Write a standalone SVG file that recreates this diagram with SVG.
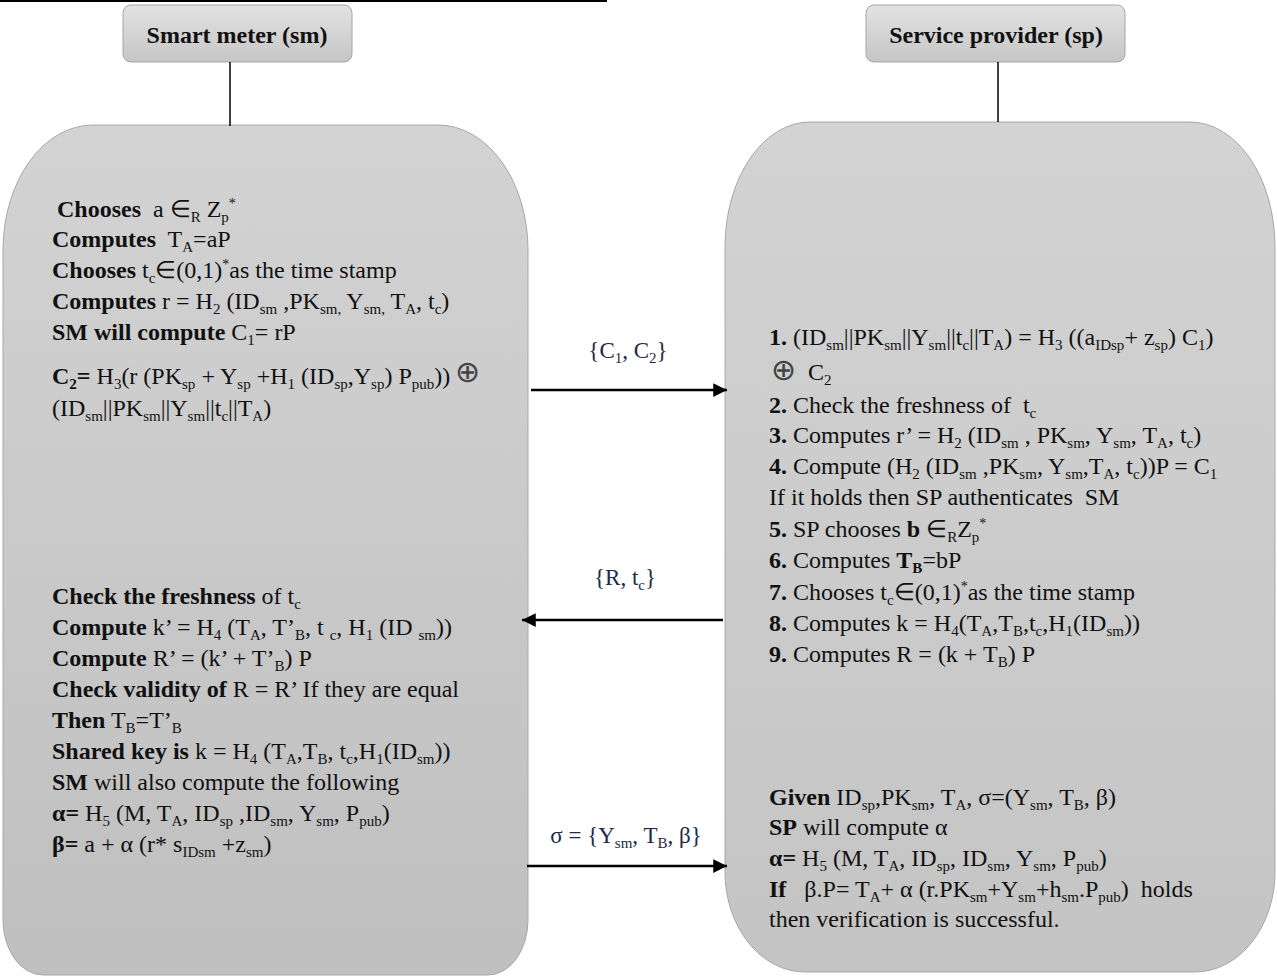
<svg xmlns="http://www.w3.org/2000/svg" width="1277" height="976" viewBox="0 0 1277 976">
<defs>
<linearGradient id="gBox" x1="0" y1="0" x2="0" y2="1">
<stop offset="0" stop-color="#d3d3d3"/><stop offset="1" stop-color="#bfbfbf"/>
</linearGradient>
<linearGradient id="gBox2" x1="0" y1="0" x2="0" y2="1">
<stop offset="0" stop-color="#d3d3d3"/><stop offset="1" stop-color="#c4c4c4"/>
</linearGradient>
<linearGradient id="gHead" x1="0" y1="0" x2="0" y2="1">
<stop offset="0" stop-color="#e2e2e2"/><stop offset="1" stop-color="#c6c6c6"/>
</linearGradient>
<marker id="ah" viewBox="0 0 10 10" refX="10" refY="5" markerWidth="6" markerHeight="5.5" orient="auto" markerUnits="strokeWidth">
<path d="M0,0 L10,5 L0,10 Z" fill="#000"/>
</marker>
<style>
text{font-family:"Liberation Serif","Times New Roman",serif;font-size:24px;fill:#111;white-space:pre}
.b{font-weight:bold}
.s{font-size:15px;baseline-shift:-5px}
.u{font-size:14px;baseline-shift:9px}
.lbl{fill:#1c2a48;font-size:23px}
.ox{font-family:"DejaVu Sans",sans-serif;font-size:30px;fill:#444}
.box{stroke:#a8a8a8;stroke-width:1}
.head{fill:url(#gHead);stroke:#a6a6a6;stroke-width:1}
.ln{stroke:#000;stroke-width:1.5;fill:none}
.arr{stroke:#000;stroke-width:2.5;fill:none;marker-end:url(#ah)}
</style>
</defs>
<rect width="1277" height="976" fill="#fff"/>
<line x1="0" y1="1" x2="607" y2="1" stroke="#000" stroke-width="2"/>

<g id="sm-header">
<rect class="head" x="123" y="5" width="229" height="57" rx="8"/>
<text class="b" x="237" y="43" text-anchor="middle">Smart meter (sm)</text>
</g>
<g id="sp-header">
<rect class="head" x="866" y="5" width="259" height="57" rx="8"/>
<text class="b" x="996" y="43" text-anchor="middle">Service provider (sp)</text>
</g>

<g id="sm-box">
<path class="box" fill="url(#gBox)" d="M93,125 H438 A90 125 0 0 1 528 250 V920 A40 55 0 0 1 488 975 H43 A40 55 0 0 1 3 920 V250 A90 125 0 0 1 93 125 Z"/>
<text x="57" y="217"><tspan class="b">Chooses</tspan>  a ∈<tspan class="s">R</tspan> Z<tspan class="s">p</tspan><tspan class="u">*</tspan></text>
<text x="52" y="247"><tspan class="b">Computes</tspan>  T<tspan class="s">A</tspan>=aP</text>
<text x="52" y="278"><tspan class="b">Chooses</tspan> t<tspan class="s">c</tspan>∈(0,1)<tspan class="u">*</tspan>as the time stamp</text>
<text x="52" y="309"><tspan class="b">Computes</tspan> r = H<tspan class="s">2</tspan> (ID<tspan class="s">sm</tspan> ,PK<tspan class="s">sm,</tspan> Y<tspan class="s">sm,</tspan> T<tspan class="s">A</tspan>, t<tspan class="s">c</tspan>)</text>
<text x="52" y="340"><tspan class="b">SM will compute</tspan> C<tspan class="s">1</tspan>= rP</text>
<text x="52" y="384"><tspan class="b">C<tspan class="s">2</tspan>=</tspan> H<tspan class="s">3</tspan>(r (PK<tspan class="s">sp</tspan> + Y<tspan class="s">sp</tspan> +H<tspan class="s">1</tspan> (ID<tspan class="s">sp</tspan>,Y<tspan class="s">sp</tspan>) P<tspan class="s">pub</tspan>))</text>
<text class="ox" x="455" y="382">⊕</text>
<text x="52" y="416">(ID<tspan class="s">sm</tspan>||PK<tspan class="s">sm</tspan>||Y<tspan class="s">sm</tspan>||t<tspan class="s">c</tspan>||T<tspan class="s">A</tspan>)</text>

<text x="52" y="604"><tspan class="b">Check the freshness</tspan> of t<tspan class="s">c</tspan></text>
<text x="52" y="635"><tspan class="b">Compute</tspan> k’ = H<tspan class="s">4</tspan> (T<tspan class="s">A</tspan>, T’<tspan class="s">B</tspan>, t <tspan class="s">c</tspan>, H<tspan class="s">1</tspan> (ID <tspan class="s">sm</tspan>))</text>
<text x="52" y="666"><tspan class="b">Compute</tspan> R’ = (k’ + T’<tspan class="s">B</tspan>) P</text>
<text x="52" y="697"><tspan class="b">Check validity of</tspan> R = R’ If they are equal</text>
<text x="52" y="728"><tspan class="b">Then</tspan> T<tspan class="s">B</tspan>=T’<tspan class="s">B</tspan></text>
<text x="52" y="759"><tspan class="b">Shared key is</tspan> k = H<tspan class="s">4</tspan> (T<tspan class="s">A</tspan>,T<tspan class="s">B</tspan>, t<tspan class="s">c</tspan>,H<tspan class="s">1</tspan>(ID<tspan class="s">sm</tspan>))</text>
<text x="52" y="790"><tspan class="b">SM</tspan> will also compute the following</text>
<text x="52" y="821"><tspan class="b">α=</tspan> H<tspan class="s">5</tspan> (M, T<tspan class="s">A</tspan>, ID<tspan class="s">sp</tspan> ,ID<tspan class="s">sm</tspan>, Y<tspan class="s">sm</tspan>, P<tspan class="s">pub</tspan>)</text>
<text x="52" y="852"><tspan class="b">β=</tspan> a + α (r* s<tspan class="s">IDsm</tspan> +z<tspan class="s">sm</tspan>)</text>
</g>

<g id="sp-box">
<path class="box" fill="url(#gBox2)" d="M810,122 H1190 A85 125 0 0 1 1275 247 V872 A80 100 0 0 1 1195 972 H805 A80 100 0 0 1 725 872 V247 A85 125 0 0 1 810 122 Z"/>
<text x="769" y="345"><tspan class="b">1.</tspan> (ID<tspan class="s">sm</tspan>||PK<tspan class="s">sm</tspan>||Y<tspan class="s">sm</tspan>||t<tspan class="s">c</tspan>||T<tspan class="s">A</tspan>) = H<tspan class="s">3</tspan> ((a<tspan class="s">IDsp</tspan>+ z<tspan class="s">sp</tspan>) C<tspan class="s">1</tspan>)</text>
<text class="ox" x="771" y="380">⊕</text>
<text x="808" y="380">C<tspan class="s">2</tspan></text>
<text x="769" y="413"><tspan class="b">2.</tspan> Check the freshness of  t<tspan class="s">c</tspan></text>
<text x="769" y="443"><tspan class="b">3.</tspan> Computes r’ = H<tspan class="s">2</tspan> (ID<tspan class="s">sm</tspan> , PK<tspan class="s">sm</tspan>, Y<tspan class="s">sm</tspan>, T<tspan class="s">A</tspan>, t<tspan class="s">c</tspan>)</text>
<text x="769" y="474"><tspan class="b">4.</tspan> Compute (H<tspan class="s">2</tspan> (ID<tspan class="s">sm</tspan> ,PK<tspan class="s">sm</tspan>, Y<tspan class="s">sm</tspan>,T<tspan class="s">A</tspan>, t<tspan class="s">c</tspan>))P = C<tspan class="s">1</tspan></text>
<text x="769" y="505">If it holds then SP authenticates  SM</text>
<text x="769" y="537"><tspan class="b">5.</tspan> SP chooses <tspan class="b">b</tspan> ∈<tspan class="s">R</tspan>Z<tspan class="s">p</tspan><tspan class="u">*</tspan></text>
<text x="769" y="568"><tspan class="b">6.</tspan> Computes <tspan class="b">T<tspan class="s">B</tspan></tspan>=bP</text>
<text x="769" y="600"><tspan class="b">7.</tspan> Chooses t<tspan class="s">c</tspan>∈(0,1)<tspan class="u">*</tspan>as the time stamp</text>
<text x="769" y="631"><tspan class="b">8.</tspan> Computes k = H<tspan class="s">4</tspan>(T<tspan class="s">A</tspan>,T<tspan class="s">B</tspan>,t<tspan class="s">c</tspan>,H<tspan class="s">1</tspan>(ID<tspan class="s">sm</tspan>))</text>
<text x="769" y="662"><tspan class="b">9.</tspan> Computes R = (k + T<tspan class="s">B</tspan>) P</text>

<text x="769" y="805"><tspan class="b">Given</tspan> ID<tspan class="s">sp</tspan>,PK<tspan class="s">sm</tspan>, T<tspan class="s">A</tspan>, σ=(Y<tspan class="s">sm</tspan>, T<tspan class="s">B</tspan>, β)</text>
<text x="769" y="835"><tspan class="b">SP</tspan> will compute α</text>
<text x="769" y="866"><tspan class="b">α=</tspan> H<tspan class="s">5</tspan> (M, T<tspan class="s">A</tspan>, ID<tspan class="s">sp</tspan>, ID<tspan class="s">sm</tspan>, Y<tspan class="s">sm</tspan>, P<tspan class="s">pub</tspan>)</text>
<text x="769" y="897"><tspan class="b">If</tspan>   β.P= T<tspan class="s">A</tspan>+ α (r.PK<tspan class="s">sm</tspan>+Y<tspan class="s">sm</tspan>+h<tspan class="s">sm</tspan>.P<tspan class="s">pub</tspan>)  holds</text>
<text x="769" y="927">then verification is successful.</text>
</g>

<g id="connectors">
<line class="ln" x1="230" y1="62" x2="230" y2="126"/>
<line class="ln" x1="998" y1="62" x2="998" y2="122"/>
<line class="arr" x1="531" y1="390" x2="727" y2="390"/>
<line class="arr" x1="723" y1="620" x2="522" y2="620"/>
<line class="arr" x1="527" y1="866" x2="727" y2="866"/>
<text class="lbl" x="628" y="358" text-anchor="middle">{C<tspan class="s">1</tspan>, C<tspan class="s">2</tspan>}</text>
<text class="lbl" x="625" y="585" text-anchor="middle">{R, t<tspan class="s">c</tspan>}</text>
<text class="lbl" x="626" y="843" text-anchor="middle">σ = {Y<tspan class="s">sm</tspan>, T<tspan class="s">B</tspan>, β}</text>
</g>
</svg>
